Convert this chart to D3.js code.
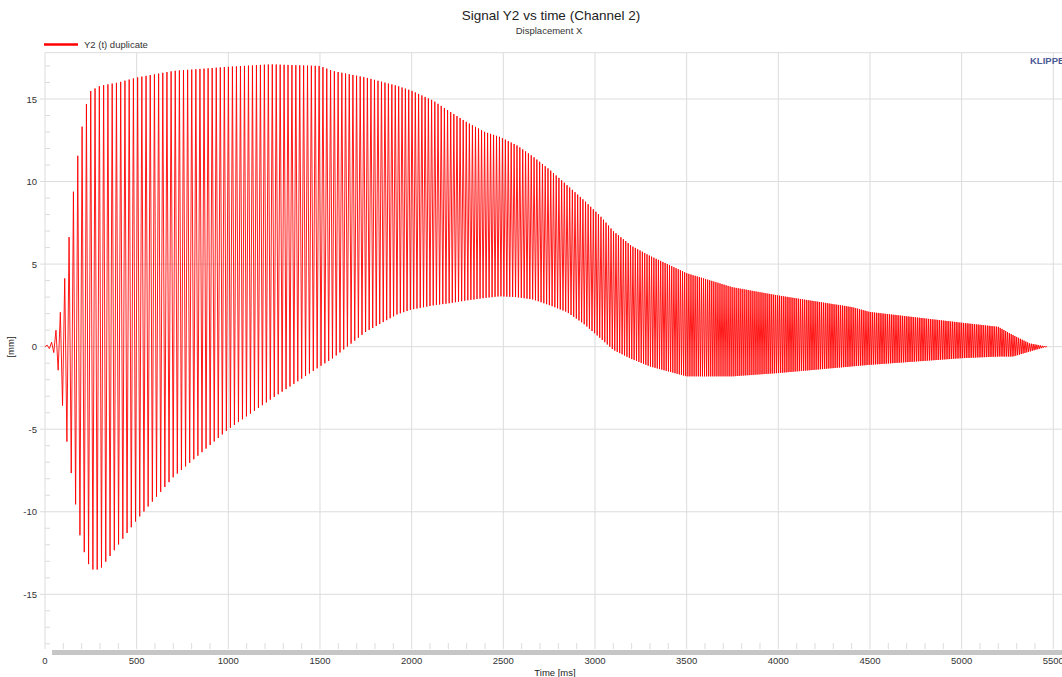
<!DOCTYPE html>
<html>
<head>
<meta charset="utf-8">
<script src="https://cdn.jsdelivr.net/npm/d3@7"></script>
<style>
  html, body { margin: 0; padding: 0; background: #fff; }
  svg { display: block; font-family: "Liberation Sans", Arial, sans-serif; }
</style>
</head>
<body>
<svg id="chart" width="1062" height="677"></svg>
<script>
// Envelope of the displacement signal Y2(t), channel 2 [mm]
const envTime  = [0, 40, 60, 80, 100, 120, 140, 160, 190, 220, 250, 300, 400, 500, 700, 1000, 1230, 1500, 1570, 1750, 1920, 2000, 2118, 2200, 2300, 2400, 2482, 2573, 2664, 2755, 2846, 2937, 3030, 3100, 3200, 3300, 3500, 3750, 4000, 4400, 4500, 5000, 5200, 5280, 5370, 5465];
const envUpper = [0, 0.3, 1.0, 1.8, 3.3, 5.5, 7.5, 10.0, 12.5, 14.5, 15.5, 15.8, 16.0, 16.3, 16.7, 16.95, 17.1, 17.0, 16.7, 16.3, 15.8, 15.5, 14.9, 14.3, 13.6, 13.0, 12.7, 12.2, 11.5, 10.7, 9.8, 8.9, 7.9, 7.0, 6.1, 5.5, 4.45, 3.6, 3.1, 2.4, 2.1, 1.45, 1.2, 0.7, 0.2, 0];
const envLower = [0, -0.2, -0.6, -2.0, -4.0, -5.8, -7.4, -9.0, -11.4, -12.7, -13.5, -13.5, -12.0, -10.5, -7.9, -5.0, -3.2, -1.2, -0.7, 0.9, 1.95, 2.25, 2.5, 2.62, 2.8, 2.95, 3.05, 3.0, 2.85, 2.5, 2.1, 1.4, 0.5, -0.2, -0.75, -1.2, -1.8, -1.8, -1.6, -1.2, -1.1, -0.7, -0.6, -0.6, -0.3, 0];

// Oscillation period along the sweep [ms]
const periodTime = [0, 500, 1000, 1500, 2000, 2500, 3000, 3500, 4000, 5000, 5465];
const periodMs   = [24, 23, 22, 21, 18, 16, 14, 11.5, 10.5, 10, 10];

// Axis ticks
const xTicks = [0, 500, 1000, 1500, 2000, 2500, 3000, 3500, 4000, 4500, 5000, 5500];
const yTicks = [-15, -10, -5, 0, 5, 10, 15];

(function () {
  const svg = d3.select("#chart");
  const W = 1062;
  const plotLeft = 45, plotTop = 52.7, plotBottom = 649;

  const x = d3.scaleLinear().domain([0, 5500]).range([45, 1053.3]);
  const y = d3.scaleLinear().domain([-15, 15]).range([594.3, 99]);

  const gridColor = "#dcdcdc";
  const textColor = "#333";

  // Title block
  svg.append("text").attr("x", 551).attr("y", 20).attr("text-anchor", "middle")
    .attr("font-size", 13.5).attr("fill", "#222").text("Signal Y2 vs time (Channel 2)");
  svg.append("text").attr("x", 549).attr("y", 34).attr("text-anchor", "middle")
    .attr("font-size", 9.5).attr("fill", textColor).text("Displacement X");

  // Legend
  svg.append("line").attr("x1", 44).attr("x2", 78).attr("y1", 44.5).attr("y2", 44.5)
    .attr("stroke", "#ff0000").attr("stroke-width", 2.5);
  svg.append("text").attr("x", 84).attr("y", 48).attr("font-size", 9.5).attr("fill", textColor)
    .text("Y2 (t) duplicate");

  // Frame and grid
  const grid = svg.append("g");
  grid.append("line").attr("x1", plotLeft).attr("x2", W).attr("y1", plotTop).attr("y2", plotTop)
    .attr("stroke", gridColor).attr("stroke-width", 1);
  grid.selectAll(".vg").data(xTicks.filter(d => d > 0)).join("line")
    .attr("x1", d => x(d)).attr("x2", d => x(d)).attr("y1", plotTop).attr("y2", plotBottom)
    .attr("stroke", gridColor).attr("stroke-width", 1);
  grid.selectAll(".hg").data(yTicks).join("line")
    .attr("x1", 40).attr("x2", W).attr("y1", d => y(d)).attr("y2", d => y(d))
    .attr("stroke", gridColor).attr("stroke-width", 1);

  // Minor ticks on the y axis (every 1 mm)
  const yMinor = d3.range(-18, 18).filter(v => v % 5 !== 0);
  grid.selectAll(".ym").data(yMinor).join("line")
    .attr("x1", plotLeft).attr("x2", plotLeft + 5).attr("y1", d => y(d)).attr("y2", d => y(d))
    .attr("stroke", gridColor).attr("stroke-width", 1);

  // Minor ticks on the x axis (every 100 ms)
  const xMinor = d3.range(100, 5600, 100).filter(v => v % 500 !== 0);
  grid.selectAll(".xm").data(xMinor).join("line")
    .attr("x1", d => x(d)).attr("x2", d => x(d)).attr("y1", plotBottom - 6).attr("y2", plotBottom)
    .attr("stroke", gridColor).attr("stroke-width", 1);

  // Y axis line
  grid.append("line").attr("x1", plotLeft).attr("x2", plotLeft).attr("y1", plotTop).attr("y2", plotBottom)
    .attr("stroke", gridColor).attr("stroke-width", 1);

  // Y tick labels
  svg.selectAll(".yl").data(yTicks).join("text")
    .attr("x", 37).attr("y", d => y(d) + 3.5).attr("text-anchor", "end")
    .attr("font-size", 9.5).attr("fill", textColor).text(d => d);
  svg.append("text").attr("transform", "translate(14,347) rotate(-90)")
    .attr("text-anchor", "middle").attr("font-size", 9.5).attr("fill", "#222").text("[mm]");

  // Scroll bar under the plot
  svg.append("rect").attr("x", 52).attr("y", 650).attr("width", W - 52).attr("height", 5)
    .attr("fill", "#c6c6c6");

  // X tick labels
  svg.selectAll(".xl").data(xTicks).join("text")
    .attr("x", d => x(d)).attr("y", 664).attr("text-anchor", "middle")
    .attr("font-size", 9.5).attr("fill", textColor).text(d => d);
  svg.append("text").attr("x", 555).attr("y", 676).attr("text-anchor", "middle")
    .attr("font-size", 9.5).attr("fill", "#222").text("Time [ms]");

  // Brand mark
  svg.append("text").attr("x", 1030).attr("y", 64).attr("font-size", 9.5).attr("font-weight", "bold")
    .attr("fill", "#4a5a96").text("KLIPPEL");

  // Signal: alternate between the upper and lower envelope, one half period at a time
  const upperAt = d3.scaleLinear().domain(envTime).range(envUpper).clamp(true);
  const lowerAt = d3.scaleLinear().domain(envTime).range(envLower).clamp(true);
  const periodAt = d3.scaleLinear().domain(periodTime).range(periodMs).clamp(true);

  const tEnd = envTime[envTime.length - 1];
  const pts = [[0, 0]];
  let t = 0, up = true;
  while (t < tEnd) {
    t += periodAt(t) / 2;
    if (t > tEnd) break;
    pts.push([t, up ? upperAt(t) : lowerAt(t)]);
    up = !up;
  }
  pts.push([tEnd, 0]);

  svg.append("clipPath").attr("id", "plotClip").append("rect")
    .attr("x", plotLeft).attr("y", plotTop).attr("width", W - plotLeft).attr("height", plotBottom - plotTop);

  svg.append("path")
    .attr("clip-path", "url(#plotClip)")
    .attr("d", d3.line().x(d => x(d[0])).y(d => y(d[1]))(pts))
    .attr("fill", "none").attr("stroke", "#ff0000").attr("stroke-width", 0.9);
})();
</script>
</body>
</html>
